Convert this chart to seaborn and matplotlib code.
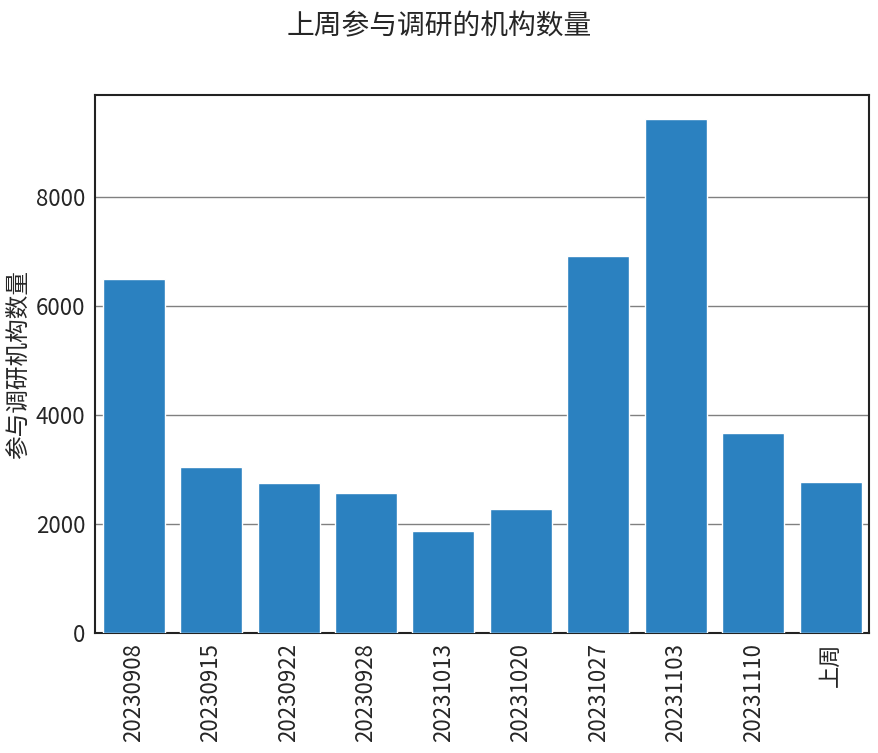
import matplotlib
matplotlib.use("Agg")
import matplotlib.pyplot as plt
import seaborn as sns
import pandas as pd

weeks = ['20230908', '20230915', '20230922', '20230928', '20231013',
         '20231020', '20231027', '20231103', '20231110', '上周']
counts = [6500, 3050, 2760, 2580, 1880, 2280, 6920, 9420, 3670, 2780]

sns.set_style('white')
plt.rcParams['font.family'] = ['Noto Sans CJK SC', 'DejaVu Sans']

df = pd.DataFrame({'week': weeks, 'count': counts})

fig, ax = plt.subplots(figsize=(8.79, 7.53), dpi=100)
fig.subplots_adjust(left=0.108, right=0.989, top=0.874, bottom=0.159)
sns.barplot(data=df, x='week', y='count', color='#2b81c0', saturation=1,
            width=0.8, ax=ax, zorder=3)
ax.set_ylim(0, 9870)
ax.set_xlim(-0.5, 9.5)
ax.set_yticks([0, 2000, 4000, 6000, 8000])
ax.yaxis.grid(True, color='gray', linewidth=1, zorder=0)
ax.set_axisbelow(True)
for s in ax.spines.values():
    s.set_color('#222222')
    s.set_linewidth(1.5)
ax.set_xlabel('')
ax.set_ylabel('参与调研机构数量', fontsize=17)
ax.tick_params(axis='both', labelsize=16)
plt.setp(ax.get_xticklabels(), rotation=90)
fig.suptitle('上周参与调研的机构数量', fontsize=20, y=0.985)
fig.savefig('out.png', dpi=100)
